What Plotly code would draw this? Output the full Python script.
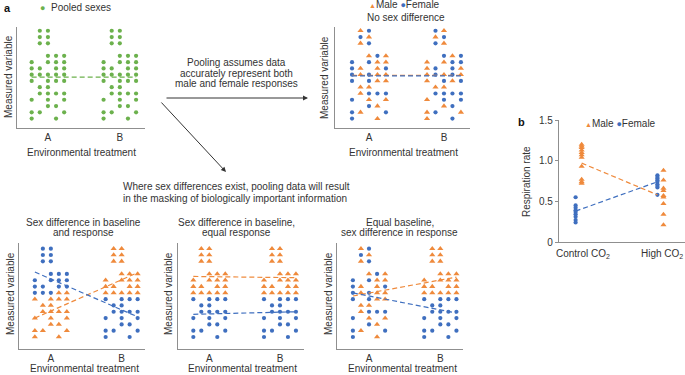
import plotly.graph_objects as go

W, H = 685, 375
FONT = "Liberation Sans, Arial, Helvetica, sans-serif"
TEXT = "#333333"
AXIS = "#8f8f8f"
GREEN = "#6cb14d"
ORANGE = "#ef8a3c"
BLUE = "#3f6fbf"

# ---------------- data ----------------
TREATMENTS = ["A", "B"]
# dot-plot rows (measured-variable level) and the column slots (1..5) used in each row
LEVELS = [15, 14, 13, 11, 10, 9, 8, 7, 6, 5, 4, 3, 2, 1]
COLUMNS = ["23", "23", "23", "345", "1345", "1245", "12345", "1345", "23", "2345", "135", "34", "125", "14"]
# sex of each dot in those slots (M = male, F = female)
MIXED_A = ["MF", "FM", "MF", "MFM", "FFMM", "FMMF", "FMFMM", "FFMM", "MM", "MFFF", "FMM", "FM", "FMF", "FM"]
MIXED_B = ["FM", "MF", "FM", "FMF", "MMFF", "MFFM", "MFMFM", "MFMF", "MM", "FFFF", "MFF", "MF", "MFM", "MF"]
FEMALE_HIGH = ["FF", "FF", "FF", "FFF", "FFFF", "FFFF", "FFFMM", "MMMM", "MM", "MMMM", "MMM", "MM", "MMM", "MM"]
MALE_HIGH = ["MM", "MM", "MM", "MMM", "MMMM", "MMMM", "MMMMM", "FFFF", "FF", "FFFF", "FFF", "FF", "FFF", "FF"]

# group means (A, B)
POOLED_MEAN = [7.6, 7.6]
NOSEX_MALE_MEAN = [7.9, 7.9]
NOSEX_FEMALE_MEAN = [7.8, 7.8]
P1_MALE_MEAN = [4.0, 11.2]
P1_FEMALE_MEAN = [11.3, 4.2]
P2_MALE_MEAN = [10.6, 10.4]
P2_FEMALE_MEAN = [4.6, 5.0]
P3_MALE_MEAN = [7.5, 10.5]
P3_FEMALE_MEAN = [8.0, 4.8]

# panel b
B_CATS = ["Control CO<sub>2</sub>", "High CO<sub>2</sub>"]
B_MALE_CONTROL = [1.20, 1.18, 1.16, 1.13, 1.10, 1.07, 1.04, 0.93, 0.77, 0.74, 0.72]
B_FEMALE_CONTROL = [0.55, 0.45, 0.42, 0.39, 0.37, 0.34, 0.31, 0.27, 0.24]
B_MALE_HIGH = [0.88, 0.76, 0.66, 0.63, 0.57, 0.55, 0.47, 0.34, 0.21]
B_FEMALE_HIGH = [0.82, 0.80, 0.78, 0.76, 0.74, 0.71, 0.69, 0.67, 0.58]
B_MALE_MEAN = [0.97, 0.58]
B_FEMALE_MEAN = [0.38, 0.74]
B_YTICKS = [0, 0.5, 1.0, 1.5]
B_YTICKTEXT = ["0", "0.5", "1.0", "1.5"]

# ---------------- helpers ----------------
DX = 0.113          # spacing of dot columns (x units)
BOFF = 0.037        # sex offset in panel b


def fx(px):
    return px / W


def fy(py):
    return 1 - py / H


def dots(pattern, group):
    out = {"M": ([], []), "F": ([], [])}
    for lvl, cols, sexes in zip(LEVELS, COLUMNS, pattern):
        for c, s in zip(cols, sexes):
            out[s][0].append(group + (int(c) - 3) * DX)
            out[s][1].append(lvl)
    return out


fig = go.Figure()

MSIZE_DOT = 4.2
MSIZE_TRI = 5.4


def add_sexed_panel(n, pat_a, pat_b, male_mean, female_mean):
    xa, ya = f"x{n}", f"y{n}"
    da, db = dots(pat_a, 0), dots(pat_b, 1)
    for sex, color, sym, size in (("F", BLUE, "circle", MSIZE_DOT), ("M", ORANGE, "triangle-up", MSIZE_TRI)):
        xs = da[sex][0] + db[sex][0]
        ys = da[sex][1] + db[sex][1]
        fig.add_trace(go.Scatter(x=xs, y=ys, mode="markers", xaxis=xa, yaxis=ya,
                                 marker=dict(symbol=sym, size=size, color=color, line=dict(width=0)),
                                 showlegend=False, hoverinfo="skip"))
    for mean, color in ((male_mean, ORANGE), (female_mean, BLUE)):
        fig.add_trace(go.Scatter(x=[-2 * DX, 1 + 2 * DX], y=mean, mode="lines", xaxis=xa, yaxis=ya,
                                 line=dict(color=color, width=1.2, dash="5px,3px"),
                                 showlegend=False, hoverinfo="skip"))


# panel 1: pooled (union of the mixed male / female data)
pa, pb = dots(MIXED_A, 0), dots(MIXED_B, 1)
fig.add_trace(go.Scatter(x=pa["M"][0] + pa["F"][0] + pb["M"][0] + pb["F"][0],
                         y=pa["M"][1] + pa["F"][1] + pb["M"][1] + pb["F"][1],
                         mode="markers", xaxis="x", yaxis="y",
                         marker=dict(symbol="circle", size=MSIZE_DOT, color=GREEN),
                         showlegend=False, hoverinfo="skip"))
fig.add_trace(go.Scatter(x=[-2 * DX, 1 + 2 * DX], y=POOLED_MEAN, mode="lines", xaxis="x", yaxis="y",
                         line=dict(color=GREEN, width=1.3, dash="5px,3px"), showlegend=False, hoverinfo="skip"))

add_sexed_panel(2, MIXED_A, MIXED_B, NOSEX_MALE_MEAN, NOSEX_FEMALE_MEAN)
add_sexed_panel(3, FEMALE_HIGH, MALE_HIGH, P1_MALE_MEAN, P1_FEMALE_MEAN)
add_sexed_panel(4, MALE_HIGH, MALE_HIGH, P2_MALE_MEAN, P2_FEMALE_MEAN)
add_sexed_panel(5, MIXED_A, MALE_HIGH, P3_MALE_MEAN, P3_FEMALE_MEAN)

# panel b
for vals, cat, sex in ((B_MALE_CONTROL, 0, "M"), (B_MALE_HIGH, 1, "M"),
                       (B_FEMALE_CONTROL, 0, "F"), (B_FEMALE_HIGH, 1, "F")):
    off = BOFF if sex == "M" else -BOFF
    fig.add_trace(go.Scatter(x=[cat + off] * len(vals), y=vals, mode="markers", xaxis="x6", yaxis="y6",
                             marker=dict(symbol="triangle-up" if sex == "M" else "circle",
                                         size=MSIZE_TRI if sex == "M" else MSIZE_DOT,
                                         color=ORANGE if sex == "M" else BLUE),
                             showlegend=False, hoverinfo="skip"))
fig.add_trace(go.Scatter(x=[0 + BOFF, 1 - BOFF], y=B_MALE_MEAN, mode="lines", xaxis="x6", yaxis="y6",
                         line=dict(color=ORANGE, width=1.2, dash="5px,3px"), showlegend=False, hoverinfo="skip"))
fig.add_trace(go.Scatter(x=[0 - BOFF, 1 - BOFF], y=B_FEMALE_MEAN, mode="lines", xaxis="x6", yaxis="y6",
                         line=dict(color=BLUE, width=1.2, dash="5px,3px"), showlegend=False, hoverinfo="skip"))

# ---------------- axes ----------------
axfont = dict(family=FONT, size=10, color=TEXT)


def xax(px0, px1, rng, ticks, ticktext, anchor, labels=True):
    return dict(domain=[fx(px0), fx(px1)], range=rng, anchor=anchor, showline=True, linecolor=AXIS,
                linewidth=1.3, showgrid=False, zeroline=False, ticks="", tickvals=ticks, ticktext=ticktext,
                showticklabels=labels, tickfont=axfont, fixedrange=True, automargin=False)


def yax(py0, py1, rng, anchor, ticks=None, ticktext=None):
    d = dict(domain=[fy(py1), fy(py0)], range=rng, anchor=anchor, showline=True, linecolor=AXIS,
             linewidth=1.3, showgrid=False, zeroline=False, fixedrange=True, automargin=False)
    if ticks is None:
        d.update(showticklabels=False, ticks="")
    else:
        d.update(tickvals=ticks, ticktext=ticktext, ticks="outside", ticklen=3, tickcolor=AXIS,
                 tickwidth=1.2, tickfont=axfont)
    return d


TOP_Y = [-0.5, 15.6]
BOT_Y = [-0.9, 15.9]
fig.update_layout(
    xaxis=xax(17, 145, [-0.43, 1.35], [0, 1], TREATMENTS, "y"),
    yaxis=yax(27, 128, TOP_Y, "x"),
    xaxis2=xax(335, 470, [-0.453, 1.347], [0, 1], TREATMENTS, "y2"),
    yaxis2=yax(27, 128, TOP_Y, "x2"),
    xaxis3=xax(19, 145, [-0.45, 1.33], [0, 1], TREATMENTS, "y3"),
    yaxis3=yax(243, 349, BOT_Y, "x3"),
    xaxis4=xax(178, 304, [-0.443, 1.34], [0, 1], TREATMENTS, "y4"),
    yaxis4=yax(243, 349, BOT_Y, "x4"),
    xaxis5=xax(337, 463, [-0.449, 1.318], [0, 1], TREATMENTS, "y5"),
    yaxis5=yax(243, 349, BOT_Y, "x5"),
    xaxis6=xax(559, 685, [-0.24, 1.30], [0, 1], B_CATS, "y6", labels=False),
    yaxis6=yax(120, 242, [0, 1.5], "x6", B_YTICKS, B_YTICKTEXT),
)

# ---------------- text ----------------
ann = []


def label(t, x, y, size=10, anchor="center", angle=0, color=TEXT):
    ann.append(dict(text=t, x=fx(x), y=fy(y), xref="paper", yref="paper", xanchor=anchor, yanchor="middle",
                    showarrow=False, textangle=angle, font=dict(family=FONT, size=size, color=color)))


SEX_KEY = (f"<span style='color:{ORANGE};font-size:7px'>▲</span>Male "
           f"<span style='color:{BLUE};font-size:9px'>●</span>Female")

label("<b>a</b>", 2, 8, size=11, anchor="left", color="#111111")
label(f"<span style='color:{GREEN};font-size:9px'>●</span>  Pooled sexes", 38, 8, anchor="left")
label(SEX_KEY, 404, 5)
label("No sex difference", 406, 17)

for x, y in ((8, 77), (325, 78), (10, 294), (168, 294), (328, 294)):
    label("Measured variable", x, y, angle=-90)
for x, y in ((81, 153), (403, 153), (84, 368), (243, 368), (402, 368)):
    label("Environmental treatment", x, y)

label("Pooling assumes data", 236, 62)
label("accurately represent both", 236, 73)
label("male and female responses", 236, 84)
label("Where sex differences exist, pooling data will result", 121, 187, anchor="left")
label("in the masking of biologically important information", 121, 199, anchor="left")

label("Sex difference in baseline", 83, 222)
label("and response", 83, 233)
label("Sex difference in baseline,", 236, 222)
label("equal response", 236, 233)
label("Equal baseline,", 400, 222)
label("sex difference in response", 400, 233)

label("<b>b</b>", 516, 122, size=11, anchor="left", color="#111111")
label(SEX_KEY, 620, 123)
label("Respiration rate", 526, 182, angle=-90)
# category labels of panel b (the right one sits flush with the page edge, as in the original)
label(B_CATS[0], 583, 254)
label(B_CATS[1], 685, 254, anchor="right")

# arrows
for head, tail in (((308, 98), (165, 98)), ((226, 172), (160, 101))):
    ann.append(dict(x=fx(head[0]), y=fy(head[1]), xref="paper", yref="paper", text="", showarrow=True,
                    ax=tail[0] - head[0], ay=tail[1] - head[1], axref="pixel", ayref="pixel",
                    arrowhead=2, arrowsize=1, arrowwidth=1, arrowcolor="#333333"))

fig.update_layout(annotations=ann, width=W, height=H, margin=dict(l=0, r=0, t=0, b=0),
                  paper_bgcolor="white", plot_bgcolor="white", showlegend=False,
                  font=dict(family=FONT, size=10, color=TEXT))

fig.write_html("out.html", include_plotlyjs=True, config={"displayModeBar": False},
               post_script="document.body.style.margin='0';document.body.style.overflow='hidden';")
